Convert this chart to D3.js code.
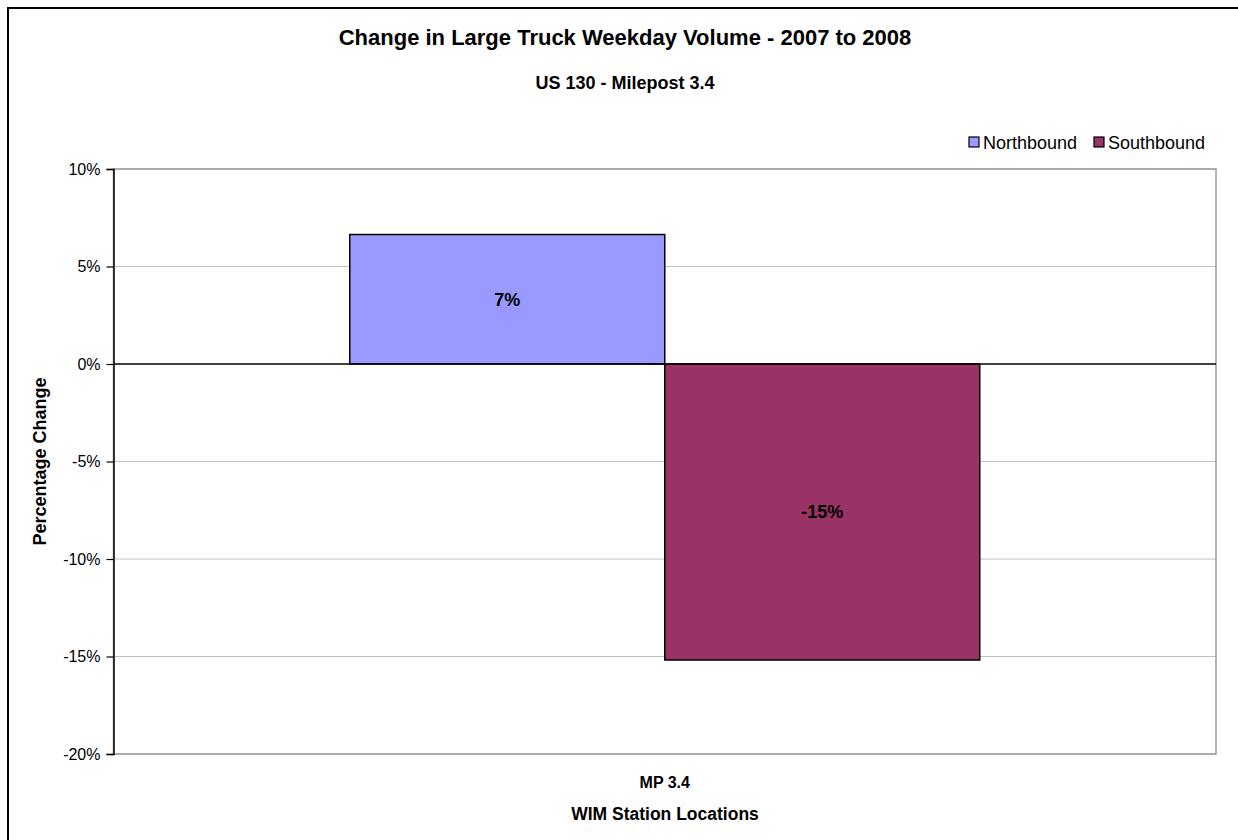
<!DOCTYPE html>
<html>
<head>
<meta charset="utf-8">
<script src="https://cdn.jsdelivr.net/npm/d3@7/dist/d3.min.js"></script>
<style>
  html, body { margin: 0; padding: 0; background: #fff; }
  svg { display: block; font-family: "Liberation Sans", Arial, sans-serif; }
</style>
</head>
<body>
<svg id="chart" width="1238" height="840"></svg>
<script>
// Weekday large-truck volume change, 2007 -> 2008, by direction
const categories = ["MP 3.4"];
const seriesNames = ["Northbound", "Southbound"];
const northbound = [0.0664];
const southbound = [-0.1518];
const yTicks = [0.10, 0.05, 0, -0.05, -0.10, -0.15, -0.20];
const colors = ["#9999FF", "#993366"];

const titleText = "Change in Large Truck Weekday Volume - 2007 to 2008";
const subtitleText = "US 130 - Milepost 3.4";
const yTitle = "Percentage Change";
const xTitle = "WIM Station Locations";

const svg = d3.select("#chart");
const W = 1238, H = 840;

// outer chart frame
svg.append("rect")
  .attr("x", 8).attr("y", 8)
  .attr("width", W + 20).attr("height", H + 20)
  .attr("fill", "#fff").attr("stroke", "#000").attr("stroke-width", 2);

const plot = { left: 113.5, right: 1216, top: 169, bottom: 754 };

const y = d3.scaleLinear().domain([-0.20, 0.10]).range([plot.bottom, plot.top]);
const x0 = d3.scaleBand().domain(categories)
  .range([plot.left, plot.right]).paddingInner(0).paddingOuter(0.375);
const x1 = d3.scaleBand().domain(seriesNames).range([0, x0.bandwidth()]).padding(0);

// percent format with a plain hyphen for negatives
const pct = d3.formatLocale({
  decimal: ".", thousands: ",", grouping: [3], currency: ["$", ""], minus: "-"
}).format(".0%");

// gridlines
svg.append("g").selectAll("line")
  .data(yTicks.filter(t => t !== 0))
  .join("line")
  .attr("x1", plot.left).attr("x2", plot.right)
  .attr("y1", d => y(d)).attr("y2", d => y(d))
  .attr("stroke", "#c0c0c0").attr("stroke-width", 1);

// plot area border
svg.append("rect")
  .attr("x", plot.left).attr("y", plot.top)
  .attr("width", plot.right - plot.left).attr("height", plot.bottom - plot.top)
  .attr("fill", "none").attr("stroke", "#9a9a9a").attr("stroke-width", 1.5);

// bars
const rows = categories.map((c, i) => ({ cat: c, values: [northbound[i], southbound[i]] }));
const groups = svg.append("g").selectAll("g")
  .data(rows).join("g")
  .attr("transform", d => `translate(${x0(d.cat)},0)`);

groups.selectAll("rect")
  .data(d => d.values.map((v, j) => ({ name: seriesNames[j], v, j })))
  .join("rect")
  .attr("x", d => x1(d.name))
  .attr("width", x1.bandwidth())
  .attr("y", d => y(Math.max(0, d.v)))
  .attr("height", d => Math.abs(y(d.v) - y(0)))
  .attr("fill", d => colors[d.j])
  .attr("stroke", "#000").attr("stroke-width", 1.5);

groups.selectAll("text")
  .data(d => d.values.map((v, j) => ({ name: seriesNames[j], v, j })))
  .join("text")
  .attr("x", d => x1(d.name) + x1.bandwidth() / 2)
  .attr("y", d => (y(d.v) + y(0)) / 2)
  .attr("dy", "0.35em")
  .attr("text-anchor", "middle")
  .attr("font-size", 18).attr("font-weight", "bold")
  .attr("fill", "#000")
  .text(d => pct(d.v));

// zero line
svg.append("line")
  .attr("x1", plot.left).attr("x2", plot.right)
  .attr("y1", y(0)).attr("y2", y(0))
  .attr("stroke", "#000").attr("stroke-width", 1.5);

// y axis
const yAxis = d3.axisLeft(y).tickValues(yTicks).tickFormat(pct).tickSize(7).tickPadding(6);
const yg = svg.append("g").attr("transform", `translate(${plot.left},0)`).call(yAxis);
yg.select(".domain").attr("stroke", "#000").attr("stroke-width", 1.5);
yg.selectAll(".tick line").attr("stroke", "#000").attr("stroke-width", 1.2);
yg.selectAll(".tick text")
  .attr("font-family", "'Liberation Sans', Arial, sans-serif")
  .attr("font-size", 16).attr("fill", "#000");

// category labels
svg.append("g").selectAll("text")
  .data(categories).join("text")
  .attr("x", d => x0(d) + x0.bandwidth() / 2)
  .attr("y", 788)
  .attr("text-anchor", "middle")
  .attr("font-size", 16).attr("font-weight", "bold")
  .text(d => d);

// titles
svg.append("text").attr("x", 625).attr("y", 45)
  .attr("text-anchor", "middle").attr("font-size", 22).attr("font-weight", "bold")
  .text(titleText);
svg.append("text").attr("x", 625).attr("y", 89)
  .attr("text-anchor", "middle").attr("font-size", 18).attr("font-weight", "bold")
  .text(subtitleText);
svg.append("text").attr("x", 665).attr("y", 820)
  .attr("text-anchor", "middle").attr("font-size", 17.5).attr("font-weight", "bold")
  .text(xTitle);
svg.append("text")
  .attr("transform", `translate(46,${(plot.top + plot.bottom) / 2}) rotate(-90)`)
  .attr("text-anchor", "middle").attr("font-size", 18).attr("font-weight", "bold")
  .text(yTitle);

// legend
const legendX = [969, 1094];
const lg = svg.append("g").selectAll("g")
  .data(seriesNames).join("g")
  .attr("transform", (d, i) => `translate(${legendX[i]},137)`);
lg.append("rect").attr("width", 10).attr("height", 10)
  .attr("fill", (d, i) => colors[i]).attr("stroke", "#000").attr("stroke-width", 1.2);
lg.append("text").attr("x", 14).attr("y", 12)
  .attr("font-size", 18).attr("fill", "#000")
  .text(d => d);
</script>
</body>
</html>
